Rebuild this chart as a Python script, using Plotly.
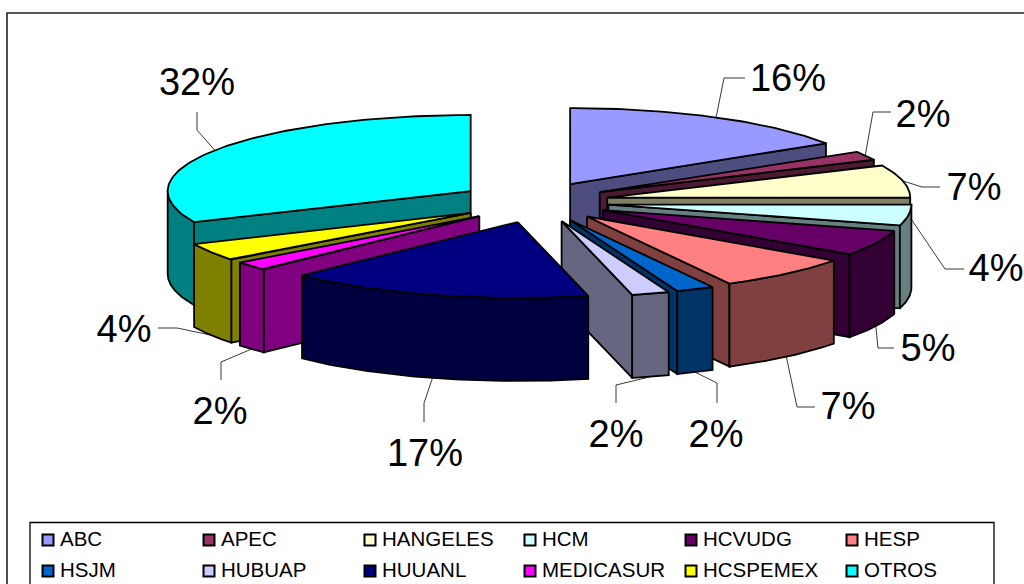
import numpy as np
import plotly.graph_objects as go

# Hospital shares of the total, in percent
categories = ["ABC", "APEC", "HANGELES", "HCM", "HCVUDG", "HESP",
              "HSJM", "HUBUAP", "HUUANL", "MEDICASUR", "HCSPEMEX", "OTROS"]
shares = [16, 2, 7, 4, 5, 7, 2, 2, 17, 2, 4, 32]

top_colors = ["#9999FF", "#993366", "#FFFFCC", "#CCFFFF", "#660066", "#FF8080",
              "#0066CC", "#CCCCFF", "#000080", "#FF00FF", "#FFFF00", "#00FFFF"]
side_colors = ["#4D4D80", "#4D1A33", "#808066", "#668080", "#330033", "#804040",
               "#003366", "#666680", "#000040", "#800080", "#808000", "#008080"]

# Exploded pie projection, in page pixels
CX, CY = 534.0, 202.0
RX, RY = 303.0, 76.0
EXPLODE_X, EXPLODE_Y = 75.0, 20.5
DEPTH = 83.0
FRONT_TWIST = np.radians(6.0)  # oblique view turns the near half slightly

# Label centres and leader elbows, in page pixels
label_xy = [(788, 81), (923, 117), (974, 190), (996, 271), (928, 351), (848, 409),
            (716, 437), (616, 437), (425, 456), (220, 414), (124, 332), (197, 85)]
leader_elbows = [[(724, 78), (745, 78)], [(873, 112), (891, 112)], [(922, 187), (940, 187)],
                 [(945, 269), (964, 269)], [(878, 348), (894, 348)], [(797, 407), (815, 407)],
                 [(717, 383), (717, 403)], [(616, 385), (616, 403)], [(424, 403), (424, 422)],
                 [(221, 362), (221, 380)], [(177, 328), (158, 328)], [(197, 130), (197, 112)]]

# Legend grid, in page pixels
legend_columns = [48, 209, 370, 530, 691, 852]
legend_rows = [540, 571]
LEGEND_TEXT_GAP = 12

FONT = "Liberation Sans"


def slice_geometry(i):
    start = sum(shares[:i]) / sum(shares) * 2 * np.pi
    end = sum(shares[:i + 1]) / sum(shares) * 2 * np.pi
    mid = (start + end) / 2
    ax = CX + EXPLODE_X * np.sin(mid)
    ay = CY - EXPLODE_Y * np.cos(mid)
    return start, end, mid, ax, ay


def rim(ax, ay, angles, drop=0.0):
    twist = FRONT_TWIST * np.maximum(0.0, -np.cos(angles)) * (0.7 + 0.3 * np.sin(angles))
    seen = angles + twist
    return ax + RX * np.sin(seen), ay - RY * np.cos(seen) + drop


def face(xs, ys, fill):
    return go.Scatter(x=list(xs) + [xs[0]], y=list(ys) + [ys[0]], mode="lines", fill="toself",
                      fillcolor=fill, line=dict(color="black", width=1.8),
                      hoverinfo="skip", showlegend=False)


fig = go.Figure()

# Leader lines sit under the slices, starting from the middle of each rim
for i, elbows in enumerate(leader_elbows):
    _, _, mid, ax, ay = slice_geometry(i)
    drop = DEPTH if np.cos(mid) < -0.2 else 0.0
    rx0, ry0 = rim(ax, ay, np.array([mid]), drop)
    xs = [rx0[0]] + [p[0] for p in elbows]
    ys = [ry0[0]] + [p[1] for p in elbows]
    fig.add_trace(go.Scatter(x=xs, y=ys, mode="lines", line=dict(color="#222222", width=0.9),
                             hoverinfo="skip", showlegend=False))

# Slices go back to front so nearer ones cover farther ones
order = sorted(range(len(shares)), key=lambda k: -np.cos(slice_geometry(k)[2]))
for i in order:
    start, end, mid, ax, ay = slice_geometry(i)
    side = side_colors[i]
    # cut faces, when they turn towards the viewer
    for edge, normal in ((start, start - np.pi / 2), (end, end + np.pi / 2)):
        if np.cos(normal) < 0:
            ex, ey = rim(ax, ay, np.array([edge]))
            fig.add_trace(face([ax, ex[0], ex[0], ax],
                               [ay, ey[0], ey[0] + DEPTH, ay + DEPTH], side))
    # outer wall on the front half
    lo, hi = max(start, np.pi / 2), min(end, 3 * np.pi / 2)
    if hi > lo:
        arc = np.linspace(lo, hi, 60)
        tx, ty = rim(ax, ay, arc)
        fig.add_trace(face(np.r_[tx, tx[::-1]], np.r_[ty, ty[::-1] + DEPTH], side))
    # top surface
    arc = np.linspace(start, end, 90)
    tx, ty = rim(ax, ay, arc)
    fig.add_trace(face(np.r_[ax, tx], np.r_[ay, ty], top_colors[i]))

# Percentage labels
fig.add_trace(go.Scatter(x=[p[0] for p in label_xy], y=[p[1] for p in label_xy], mode="text",
                         text=[f"{v}%" for v in shares], textposition="middle center",
                         textfont=dict(family=FONT, size=38, color="black"),
                         hoverinfo="skip", showlegend=False))

# Legend entries in two rows of six
n_cols = len(legend_columns)
legend_x = [legend_columns[k % n_cols] for k in range(len(categories))]
legend_y = [legend_rows[k // n_cols] for k in range(len(categories))]
fig.add_trace(go.Scatter(
    x=legend_x, y=legend_y, mode="markers",
    marker=dict(symbol="square", size=11, color=top_colors, line=dict(color="black", width=2)),
    hoverinfo="skip", showlegend=False, cliponaxis=False))
fig.add_trace(go.Scatter(
    x=[v + LEGEND_TEXT_GAP for v in legend_x], y=[v + 1 for v in legend_y], mode="text",
    text=categories, textposition="middle right",
    textfont=dict(family=FONT, size=20.5, color="black"),
    hoverinfo="skip", showlegend=False, cliponaxis=False))

fig.update_layout(
    width=1024, height=584, margin=dict(l=0, r=0, t=0, b=0),
    paper_bgcolor="white", plot_bgcolor="white", showlegend=False,
    xaxis=dict(range=[0, 1024], visible=False, fixedrange=True),
    yaxis=dict(range=[584, 0], visible=False, fixedrange=True),
    shapes=[
        dict(type="rect", xref="x", yref="y", x0=7, y0=13, x1=1040, y1=620,
             line=dict(color="#222222", width=1.6), layer="below"),
        dict(type="rect", xref="x", yref="y", x0=30, y0=522.5, x1=994, y1=620,
             line=dict(color="black", width=1.3), fillcolor="white", layer="below"),
    ],
)

fig.write_html("out.html", config=dict(displayModeBar=False))
